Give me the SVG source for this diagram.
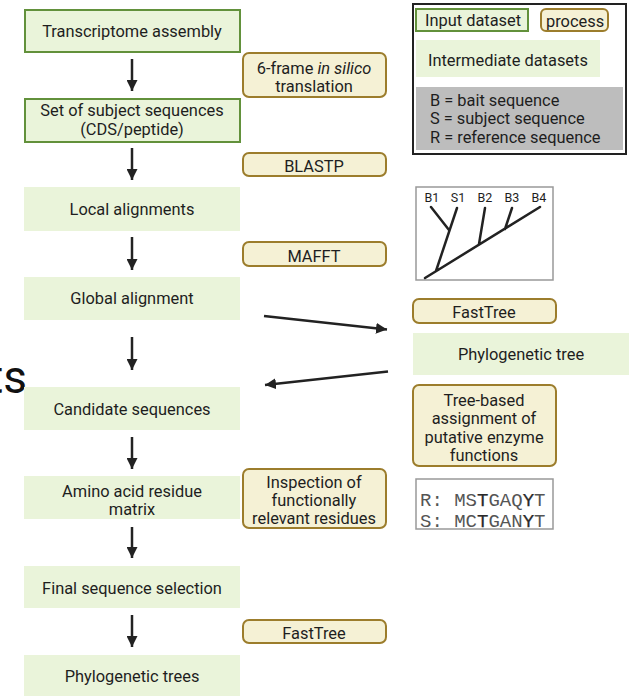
<svg xmlns="http://www.w3.org/2000/svg" width="629" height="696" viewBox="0 0 629 696">
  <style>
    text { font-family: Roboto, "Liberation Sans", sans-serif; font-size: 16.4px; fill: #1e1e1e; }
    .c { text-anchor: middle; }
    .lbl { font-size: 12.5px; text-anchor: middle; }
    .input { fill: #eaf4da; stroke: #62913b; stroke-width: 2; }
    .inter { fill: #eaf4da; stroke: none; }
    .proc { fill: #f5f1d5; stroke: #9c7d2c; stroke-width: 2; }
    .conn { stroke: #222; stroke-width: 2.5; fill: none; marker-end: url(#head); }
    .tree { stroke: #222; stroke-width: 2.5; fill: none; stroke-linecap: round; }
    .mono { font-family: "Liberation Mono", "Courier New", monospace; font-size: 19px; fill: #555; }
    .mono .b { fill: #2a2a2a; stroke: #2a2a2a; stroke-width: 0.25; }
  </style>
  <defs>
    <marker id="head" viewBox="0 0 10 10" refX="10" refY="5" markerWidth="11" markerHeight="11" markerUnits="userSpaceOnUse" orient="auto">
      <path d="M0,0 L10,5 L0,10 z" fill="#222"/>
    </marker>
  </defs>

  <!-- stray heading fragment at the left edge -->
  <text x="27" y="393" style="font-size:46px; text-anchor:end; fill:#111">ts</text>

  <!-- main pipeline column -->
  <g id="transcriptome-assembly">
    <rect class="input" x="25" y="10" width="215" height="42"/>
    <text class="c" x="132" y="37">Transcriptome assembly</text>
  </g>
  <g id="subject-sequences">
    <rect class="input" x="25" y="99" width="215" height="43"/>
    <text class="c" x="132" y="116">Set of subject sequences</text>
    <text class="c" x="132" y="135">(CDS/peptide)</text>
  </g>
  <g id="local-alignments">
    <rect class="inter" x="24" y="187" width="216" height="44"/>
    <text class="c" x="132" y="215">Local alignments</text>
  </g>
  <g id="global-alignment">
    <rect class="inter" x="24" y="277" width="216" height="43"/>
    <text class="c" x="132" y="304">Global alignment</text>
  </g>
  <g id="candidate-sequences">
    <rect class="inter" x="24" y="387" width="216" height="43"/>
    <text class="c" x="132" y="415">Candidate sequences</text>
  </g>
  <g id="residue-matrix">
    <rect class="inter" x="24" y="476" width="216" height="43"/>
    <text class="c" x="132" y="497">Amino acid residue</text>
    <text class="c" x="132" y="515">matrix</text>
  </g>
  <g id="final-selection">
    <rect class="inter" x="24" y="566" width="216" height="42"/>
    <text class="c" x="132" y="594">Final sequence selection</text>
  </g>
  <g id="phylogenetic-trees">
    <rect class="inter" x="24" y="655" width="216" height="41"/>
    <text class="c" x="132" y="682">Phylogenetic trees</text>
  </g>

  <!-- process steps -->
  <g id="translation">
    <rect class="proc" x="243" y="53" width="143" height="44" rx="6"/>
    <text class="c" x="314" y="74">6-frame <tspan font-style="italic">in silico</tspan></text>
    <text class="c" x="314" y="92">translation</text>
  </g>
  <g id="blastp">
    <rect class="proc" x="243" y="153" width="143" height="23" rx="6"/>
    <text class="c" x="314" y="172">BLASTP</text>
  </g>
  <g id="mafft">
    <rect class="proc" x="243" y="242" width="143" height="24" rx="6"/>
    <text class="c" x="314" y="262">MAFFT</text>
  </g>
  <g id="inspection">
    <rect class="proc" x="243" y="469" width="143" height="59" rx="6"/>
    <text class="c" x="314" y="488">Inspection of</text>
    <text class="c" x="314" y="506">functionally</text>
    <text class="c" x="314" y="524">relevant residues</text>
  </g>
  <g id="fasttree-final">
    <rect class="proc" x="243" y="620" width="143" height="23" rx="6"/>
    <text class="c" x="314" y="639">FastTree</text>
  </g>

  <!-- side branch: tree-based function assignment -->
  <g id="fasttree-side">
    <rect class="proc" x="413" y="299" width="143" height="24" rx="6"/>
    <text class="c" x="484" y="318">FastTree</text>
  </g>
  <g id="phylogenetic-tree">
    <rect class="inter" x="413" y="333" width="216" height="42"/>
    <text class="c" x="521" y="360">Phylogenetic tree</text>
  </g>
  <g id="tree-assignment">
    <rect class="proc" x="413" y="385" width="143" height="81" rx="6"/>
    <text class="c" x="484" y="406">Tree-based</text>
    <text class="c" x="484" y="424">assignment of</text>
    <text class="c" x="484" y="443">putative enzyme</text>
    <text class="c" x="484" y="461">functions</text>
  </g>

  <!-- example tree -->
  <g id="tree-example">
    <rect x="416" y="187" width="137" height="93" fill="#fff" stroke="#999" stroke-width="1.5"/>
    <text class="lbl" x="432" y="202">B1</text>
    <text class="lbl" x="458" y="202">S1</text>
    <text class="lbl" x="485" y="202">B2</text>
    <text class="lbl" x="512" y="202">B3</text>
    <text class="lbl" x="539" y="202">B4</text>
    <path class="tree" d="M425,278 L540,207 M436,271 L457,208 M431,207 L449,230 M485,208 L479,244 M512,208 L505,229"/>
  </g>

  <!-- example residue comparison -->
  <g id="residue-example">
    <rect x="416" y="479" width="137" height="50" fill="#fff" stroke="#999" stroke-width="1.5"/>
    <text class="mono" x="420" y="506">R: MS<tspan class="b">T</tspan>GAQ<tspan class="b">Y</tspan>T</text>
    <text class="mono" x="420" y="527">S: MC<tspan class="b">T</tspan>GAN<tspan class="b">Y</tspan>T</text>
  </g>

  <!-- legend -->
  <g id="legend">
    <rect x="413" y="4" width="213" height="150" fill="#fff" stroke="#222" stroke-width="2"/>
    <rect class="input" x="416" y="9" width="112" height="22"/>
    <text x="425" y="26">Input dataset</text>
    <rect class="proc" x="541" y="9" width="67" height="22" rx="5"/>
    <text x="546" y="27">process</text>
    <rect class="inter" x="416" y="40" width="184" height="37"/>
    <text x="428" y="66">Intermediate datasets</text>
    <rect x="416" y="87" width="207" height="63" fill="#bdbdbd"/>
    <text x="430" y="106">B = bait sequence</text>
    <text x="430" y="124">S = subject sequence</text>
    <text x="430" y="143">R = reference sequence</text>
  </g>

  <!-- connectors -->
  <g id="connectors">
    <line class="conn" x1="132" y1="59" x2="132" y2="91"/>
    <line class="conn" x1="132" y1="148" x2="132" y2="180"/>
    <line class="conn" x1="132" y1="237" x2="132" y2="270"/>
    <line class="conn" x1="132" y1="337" x2="132" y2="370"/>
    <line class="conn" x1="132" y1="437" x2="132" y2="469"/>
    <line class="conn" x1="132" y1="527" x2="132" y2="558"/>
    <line class="conn" x1="132" y1="615" x2="132" y2="647"/>
    <line class="conn" x1="264" y1="316" x2="387" y2="329.5"/>
    <line class="conn" x1="388" y1="371.5" x2="265" y2="385"/>
  </g>
</svg>
